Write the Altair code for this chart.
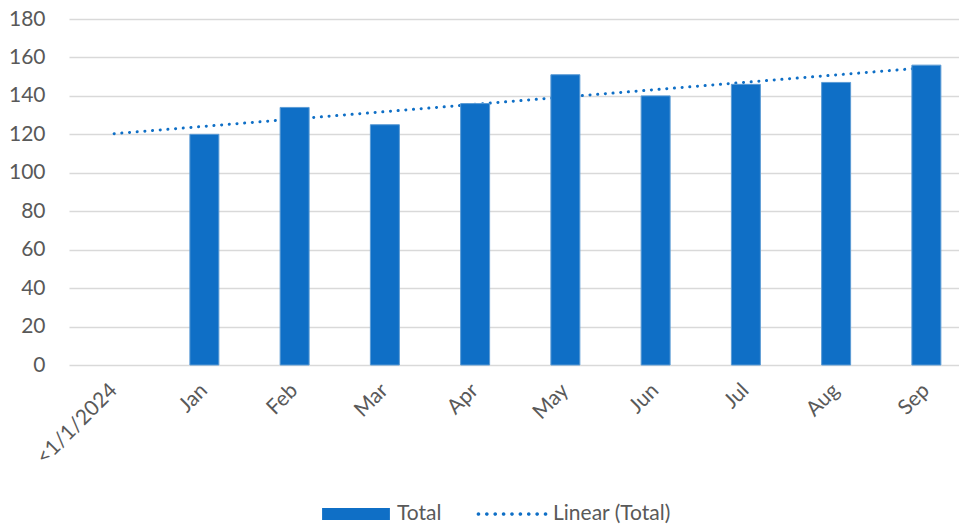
import json
import altair as alt
import pandas as pd

categories = ["<1/1/2024", "Jan", "Feb", "Mar", "Apr", "May", "Jun", "Jul", "Aug", "Sep"]
totals = [None, 120, 134, 125, 136, 151, 140, 146, 147, 156]

df = pd.DataFrame({
    "cat": categories,
    "idx": list(range(len(categories))),
    "value": totals,
})

BLUE = "#0F6FC6"
FONT = "Lato"
TXT = "#595959"

# dotted legend symbol: row of small dots in unit coordinates
n_dots = 9
r = 0.055
parts = []
for i in range(n_dots):
    cx = -1 + 2 * i / (n_dots - 1)
    parts.append(f"M{cx - r:.3f},0a{r},{r} 0 1,0 {2*r},0a{r},{r} 0 1,0 {-2*r},0Z")
DOT_PATH = "".join(parts)

x_enc = alt.X(
    "cat:N",
    sort=categories,
    scale=alt.Scale(domain=categories, range=[0, 902.5], paddingInner=0.679, paddingOuter=0.3395),
    axis=alt.Axis(title=None, labelAngle=-45, labelAlign="right", labelBaseline="middle",
                  labelPadding=22, ticks=False, domain=False, grid=False),
)
y_scale = alt.Scale(domain=[0, 180])
y_axis = alt.Axis(title=None, values=list(range(0, 181, 20)), grid=True, gridColor="#D9D9D9",
                  gridWidth=1.5, ticks=False, domain=False, labelPadding=24)

base = alt.Chart(df).transform_filter("datum.value != null")

color_enc = alt.Color(
    "series:N",
    scale=alt.Scale(domain=["Total"], range=[BLUE]),
    legend=alt.Legend(title=None, symbolType="M-1,-0.18H1V0.18H-1Z", symbolSize=4600,
                      symbolStrokeWidth=0, orient="none", legendX=253, legendY=461),
)

# invisible first layer so that the "Total" legend comes first
bars_key = base.transform_calculate(series="'Total'").mark_bar(opacity=0).encode(
    x=x_enc,
    y=alt.Y("value:Q", scale=y_scale, axis=y_axis),
    color=color_enc,
)

trend = base.transform_regression(
    "idx", "value", extent=[0, len(categories) - 1]
).transform_calculate(
    cat=f"{json.dumps(categories)}[round(datum.idx)]",
    series="'Linear (Total)'",
).mark_line(strokeWidth=3, strokeCap="round", strokeDash=[0.1, 7.6], color=BLUE).encode(
    x=x_enc,
    y=alt.Y("value:Q", scale=y_scale, axis=y_axis),
    opacity=alt.Opacity(
        "series:N",
        scale=alt.Scale(domain=["Linear (Total)"], range=[1]),
        legend=alt.Legend(title=None, symbolType=DOT_PATH, symbolSize=4500,
                          symbolFillColor=BLUE, symbolStrokeWidth=0,
                          orient="none", legendX=409, legendY=461),
    ),
)

bars = base.transform_calculate(series="'Total'").mark_bar(stroke="#5B9BD5", strokeWidth=1).encode(
    x=x_enc,
    y=alt.Y("value:Q", scale=y_scale, axis=y_axis),
    color=color_enc,
)

chart = alt.layer(bars_key, trend, bars).properties(
    width=890,
    height=346,
    autosize=alt.AutoSizeParams(type="none"),
    padding={"left": 69, "top": 19, "right": 0, "bottom": 159},
    background="white",
).configure_view(stroke=None).configure_axis(
    labelFont=FONT, labelFontSize=21, labelColor=TXT,
).configure_legend(
    labelFont=FONT, labelFontSize=21, labelColor=TXT, padding=0,
    labelOffset=7, direction="horizontal",
)

chart.save("out.html", embed_options={"renderer": "svg", "actions": False})
